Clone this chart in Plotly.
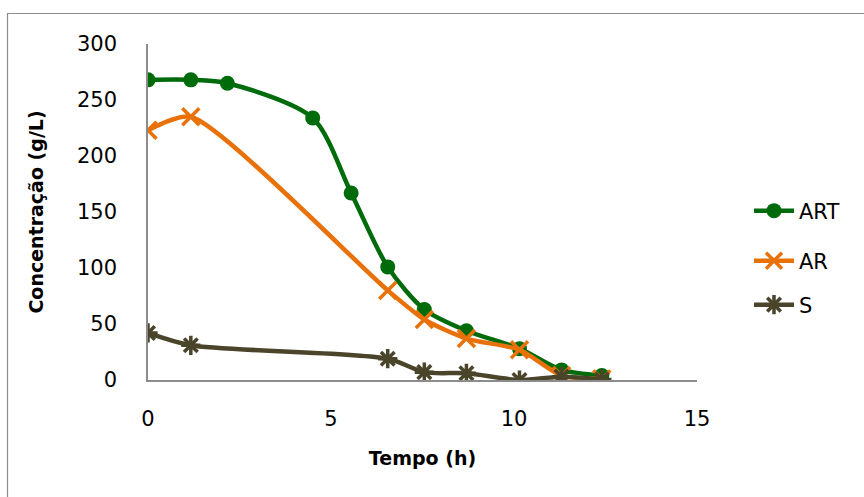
import plotly.graph_objects as go

art_x = [0, 1.17, 2.17, 4.5, 5.55, 6.55, 7.55, 8.7, 10.15, 11.3, 12.4]
art_y = [268, 268, 265, 234, 167, 101, 63, 44, 28, 9, 4]
ar_x = [0, 1.17, 6.55, 7.55, 8.7, 10.15, 11.3, 12.4]
ar_y = [223, 235, 80, 54, 37, 27, 4, 1]
s_x = [0, 1.17, 6.55, 7.55, 8.7, 10.15, 11.3, 12.4]
s_y = [42, 31, 19, 7, 6, 0, 3, 0.5]

GREEN = "#006B0A"
ORANGE = "#E8710A"
BROWN = "#4A452A"
FONT = "DejaVu Sans"

W, H = 864, 497
PL, PR, PT, PB = 148, 697, 44, 380  # plot area pixel bounds
PW, PH = PR - PL, PB - PT


def px(x):
    return (x - PL) / PW


def py(y):
    return (PB - y) / PH


fig = go.Figure()
fig.add_trace(go.Scatter(x=art_x, y=art_y, name="ART", mode="lines+markers", legend="legend",
                         line=dict(color=GREEN, width=4.5, shape="spline", smoothing=0.8),
                         marker=dict(symbol="circle", size=15, color=GREEN)))
fig.add_trace(go.Scatter(x=ar_x, y=ar_y, name="AR", mode="lines+markers", legend="legend2",
                         line=dict(color=ORANGE, width=4.5, shape="spline", smoothing=0.65),
                         marker=dict(symbol="x-thin", size=17, color=ORANGE,
                                     line=dict(color=ORANGE, width=3.5))))
fig.add_trace(go.Scatter(x=s_x, y=s_y, name="S", mode="lines+markers", legend="legend3",
                         line=dict(color=BROWN, width=4.5, shape="spline", smoothing=0.8),
                         marker=dict(symbol="asterisk", size=16, color=BROWN,
                                     line=dict(color=BROWN, width=3.5))))

leg_common = dict(xanchor="left", yanchor="middle", font=dict(size=21, family=FONT),
                  bgcolor="rgba(0,0,0,0)", itemwidth=40)

fig.update_layout(
    width=W, height=H,
    margin=dict(l=PL, r=W - PR, t=PT, b=H - PB, autoexpand=False),
    paper_bgcolor="white", plot_bgcolor="white",
    font=dict(family=FONT, size=21, color="#000000"),
    xaxis=dict(range=[0, 15], tickvals=[0, 5, 10, 15],
               showgrid=False, zeroline=False, showline=True, linecolor="#8C8C8C", linewidth=1.5,
               ticks="", ticklabelstandoff=19, automargin=False,
               title=dict(text="<b>Tempo (h)</b>", font=dict(size=19), standoff=22)),
    yaxis=dict(range=[0, 300], tickvals=[0, 50, 100, 150, 200, 250, 300],
               showgrid=False, zeroline=False, showline=True, linecolor="#8C8C8C", linewidth=1.5,
               ticks="", ticklabelstandoff=25, automargin=False,
               title=dict(text="<b>Concentração (g/L)</b>", font=dict(size=19), standoff=28)),
    legend=dict(x=px(749), y=py(211), **leg_common),
    legend2=dict(x=px(749), y=py(261), **leg_common),
    legend3=dict(x=px(749), y=py(305), **leg_common),
    showlegend=True,
)
fig.add_shape(type="rect", xref="paper", yref="paper",
              x0=px(7.5), x1=px(870), y0=py(505), y1=py(13.5),
              line=dict(color="#8C8C8C", width=1.2), fillcolor="rgba(0,0,0,0)", layer="below")

fig.write_html("out.html")
